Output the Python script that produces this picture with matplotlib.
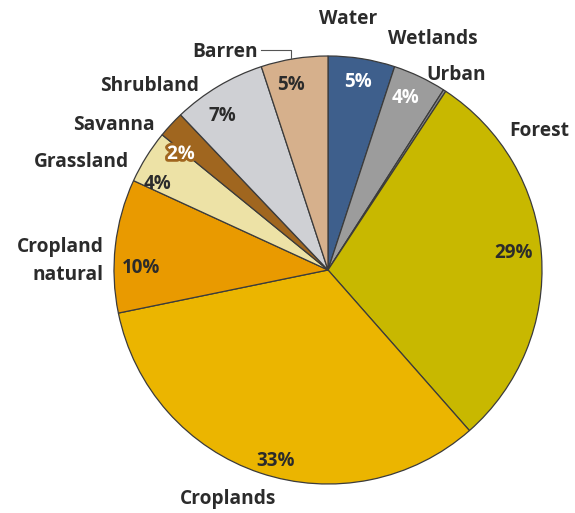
import matplotlib
matplotlib.use("Agg")
import matplotlib.pyplot as plt
import matplotlib.patheffects as pe

# land-cover shares, clockwise from 12 o'clock
categories = ["Water", "Wetlands", "Urban", "Forest", "Croplands", "Cropland\nnatural",
              "Grassland", "Savanna", "Shrubland", "Barren"]
shares = [5, 4, 0.2, 29, 33, 10, 4, 2, 7, 5]
colors = ["#3e5f8c", "#9c9c9c", "#8a8a8a", "#c8b800", "#ebb500", "#e99a00",
          "#ede2a6", "#a0661f", "#cfd0d4", "#d6b08c"]

W, H = 575, 513
fig = plt.figure(figsize=(W / 100, H / 100), dpi=100)
ax = fig.add_axes([0, 0, 1, 1])

cx, cy, r = 328, H - 270, 214
ax.pie(shares, colors=colors, startangle=90, counterclock=False,
       center=(cx, cy), radius=r, frame=True,
       wedgeprops=dict(edgecolor="#3b3b3b", linewidth=0.9))
ax.set_xlim(0, W)
ax.set_ylim(0, H)
ax.set_aspect("equal")
ax.axis("off")

font = dict(family=["Open Sans", "DejaVu Sans"], fontweight="bold")
dark = "#2b2b2b"


def px(x, y):
    return x, H - y


# category names (pixel positions)
name_pos = {
    "Water": (348, 19, "center"),
    "Wetlands": (433, 39, "center"),
    "Urban": (456, 75, "center"),
    "Forest": (539, 131, "center"),
    "Croplands": (228, 499, "center"),
    "Cropland\nnatural": (104, 261, "right"),
    "Grassland": (129, 162, "right"),
    "Savanna": (155, 125, "right"),
    "Shrubland": (199, 86, "right"),
    "Barren": (258, 52, "right"),
}
for name, (x, y, ha) in name_pos.items():
    ax.text(*px(x, y), name, ha=ha, va="center", fontsize=13.8, color=dark,
            linespacing=1.5, **font)

# leader for Barren
ax.plot([261, 291, 291], [H - 50, H - 50, H - 58], color="#555555", lw=0.8)

# percentage labels
pct_pos = {
    "Water": (358, 82, "white"),
    "Wetlands": (405, 98, "white"),
    "Forest": (514, 253, dark),
    "Croplands": (276, 461, dark),
    "Cropland\nnatural": (141, 268, dark),
    "Grassland": (157, 184, dark),
    "Savanna": (181, 154, "white"),
    "Shrubland": (222, 116, dark),
    "Barren": (291, 85, dark),
}
for name, (x, y, c) in pct_pos.items():
    val = shares[categories.index(name)]
    t = ax.text(*px(x, y), f"{val:g}%", ha="center", va="center", fontsize=13.5,
                color=c, **font)
    if name == "Savanna":
        t.set_path_effects([pe.withStroke(linewidth=4, foreground="#a0661f")])

fig.savefig("out.png", dpi=100, facecolor="white")
